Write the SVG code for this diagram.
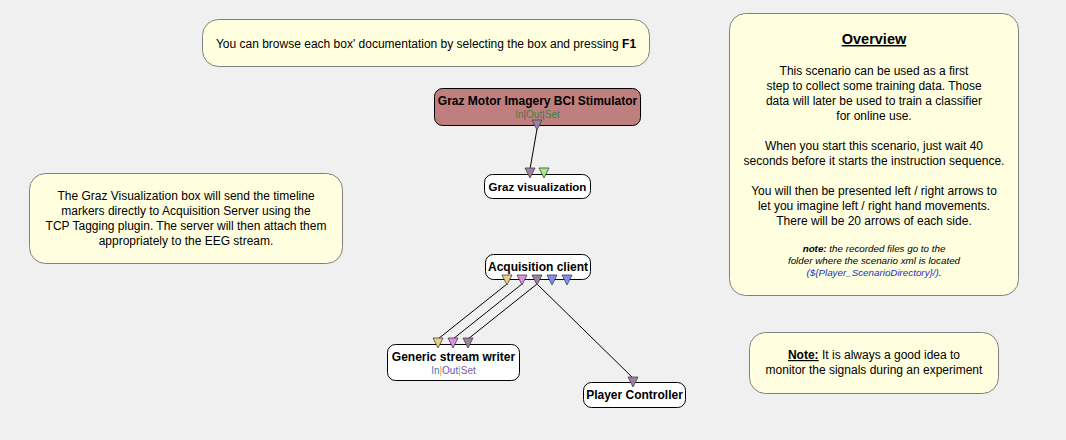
<svg xmlns="http://www.w3.org/2000/svg" width="1066" height="440" viewBox="0 0 1066 440">
<style>
text{font-family:"Liberation Sans",Arial,sans-serif;fill:#000}
.note{fill:#ffffe0;stroke:#808080;stroke-width:1}
.box{fill:#fff;stroke:#000;stroke-width:1}
.t{font-size:12px;text-anchor:middle}
.title{font-size:12px;font-weight:bold;text-anchor:middle}
.small{font-size:10px;text-anchor:middle}
.it{font-size:9.8px;font-style:italic;text-anchor:middle}
.link{stroke:#000;stroke-width:1;fill:none}
.tri{stroke:#404040;stroke-width:0.8}
.purple{fill:#a080a0}.green{fill:#a0f080}.yellow{fill:#f0d080}.pink{fill:#e090e0}.blue{fill:#8090f0}
</style>
<rect width="1066" height="440" fill="#f0f0f0"/>

<g id="note-f1">
<rect class="note" x="202.5" y="19.5" width="447" height="47" rx="16"/>
<text class="t" x="426" y="47.5">You can browse each box' documentation by selecting the box and pressing <tspan font-weight="bold">F1</tspan></text>
</g>

<g id="note-graz">
<rect class="note" x="29.5" y="173.5" width="313" height="90" rx="16"/>
<text class="t" x="186" y="200">The Graz Visualization box will send the timeline</text>
<text class="t" x="186" y="215">markers directly to Acquisition Server using the</text>
<text class="t" x="186" y="230">TCP Tagging plugin. The server will then attach them</text>
<text class="t" x="186" y="245">appropriately to the EEG stream.</text>
</g>

<g id="note-overview">
<rect class="note" x="729.5" y="13.5" width="289" height="282" rx="16"/>
<text class="title" x="874" y="44" style="font-size:14.5px" text-decoration="underline">Overview</text>
<text class="t" x="874" y="75">This scenario can be used as a first</text>
<text class="t" x="874" y="90">step to collect some training data. Those</text>
<text class="t" x="874" y="105">data will later be used to train a classifier</text>
<text class="t" x="874" y="120">for online use.</text>
<text class="t" x="874" y="150">When you start this scenario, just wait 40</text>
<text class="t" x="874" y="165">seconds before it starts the instruction sequence.</text>
<text class="t" x="874" y="195">You will then be presented left / right arrows to</text>
<text class="t" x="874" y="210">let you imagine left / right hand movements.</text>
<text class="t" x="874" y="225">There will be 20 arrows of each side.</text>
<text class="it" x="874" y="252"><tspan font-weight="bold">note:</tspan> the recorded files go to the</text>
<text class="it" x="874" y="264">folder where the scenario xml is located</text>
<text class="it" x="874" y="276"><tspan fill="#2030c0">(${Player_ScenarioDirectory}/)</tspan>.</text>
</g>

<g id="note-monitor">
<rect class="note" x="749.5" y="332.5" width="249" height="61" rx="16"/>
<text class="t" x="874" y="359"><tspan font-weight="bold" text-decoration="underline">Note:</tspan> It is always a good idea to</text>
<text class="t" x="874" y="374">monitor the signals during an experiment</text>
</g>

<g id="connectors">
<line class="link" x1="537" y1="129" x2="530" y2="169"/>
<line class="link" x1="507" y1="284" x2="438" y2="339"/>
<line class="link" x1="522" y1="284" x2="453" y2="339"/>
<line class="link" x1="537" y1="284" x2="468" y2="339"/>
<line class="link" x1="537" y1="284" x2="633" y2="378"/>
</g>

<g id="graz-stimulator">
<rect x="434.5" y="88.5" width="206" height="37" rx="8" fill="#bf7f7f" stroke="#000"/>
<text class="title" x="537.5" y="105">Graz Motor Imagery BCI Stimulator</text>
<text class="small" x="537.5" y="118"><tspan fill="#3f7f3f">In</tspan><tspan fill="#7f3f7f">|</tspan><tspan fill="#3f7f3f">Out</tspan><tspan fill="#7f3f7f">|</tspan><tspan fill="#3f7f3f">Set</tspan></text>
<polygon class="tri purple" points="532,120 542,120 537,130"/>
</g>

<g id="graz-visualization">
<rect class="box" x="484.5" y="174.5" width="106" height="24" rx="8"/>
<text class="title" x="537.5" y="191" style="font-size:11.5px">Graz visualization</text>
<polygon class="tri purple" points="525,168 535,168 530,178"/>
<polygon class="tri green" points="539,168 549,168 544,178"/>
</g>

<g id="acquisition-client">
<rect class="box" x="485.5" y="254.5" width="105" height="25" rx="8"/>
<text class="title" x="538" y="271">Acquisition client</text>
<polygon class="tri yellow" points="502,275 512,275 507,285"/>
<polygon class="tri pink" points="517,275 527,275 522,285"/>
<polygon class="tri purple" points="532,275 542,275 537,285"/>
<polygon class="tri blue" points="547,275 557,275 552,285"/>
<polygon class="tri blue" points="562,275 572,275 567,285"/>
</g>

<g id="generic-stream-writer">
<rect class="box" x="387.5" y="344.5" width="132" height="36" rx="8"/>
<text class="title" x="453.5" y="361">Generic stream writer</text>
<text class="small" x="453.5" y="374"><tspan fill="#4080c0">In</tspan><tspan fill="#e0a040">|</tspan><tspan fill="#5060c0">Out</tspan><tspan fill="#e0a040">|</tspan><tspan fill="#8060a0">Set</tspan></text>
<polygon class="tri yellow" points="433,338 443,338 438,348"/>
<polygon class="tri pink" points="448,338 458,338 453,348"/>
<polygon class="tri purple" points="463,338 473,338 468,348"/>
</g>

<g id="player-controller">
<rect class="box" x="583.5" y="382.5" width="102" height="25" rx="8"/>
<text class="title" x="634.5" y="399">Player Controller</text>
<polygon class="tri purple" points="628,377 638,377 633,387"/>
</g>
</svg>
